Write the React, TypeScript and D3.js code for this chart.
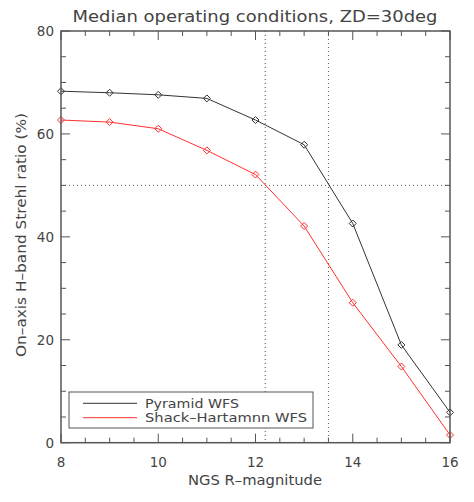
import React from "react";
import * as d3 from "d3";

const magnitudes = [8, 9, 10, 11, 12, 13, 14, 15, 16];
const pyramid = [68.3, 68.0, 67.6, 66.9, 62.7, 57.9, 42.6, 19.0, 5.9];
const shackHartmann = [62.7, 62.3, 61.0, 56.8, 52.1, 42.1, 27.2, 14.8, 1.5];
const xTicks = [8, 10, 12, 14, 16];
const yTicks = [0, 20, 40, 60, 80];
const vLines = [12.2, 13.5];
const hLines = [50];
const seriesNames = ["Pyramid WFS", "Shack\u2013Hartamnn WFS"];
const seriesColors = ["#333333", "#ff3030"];

const W = 474, H = 502;
const left = 61, right = 450, top = 31, bottom = 442.7;
const font = "'DejaVu Sans', sans-serif";
const axisColor = "#555";
const textColor = "#444";

export default function App() {
  const x = d3.scaleLinear().domain([8, 16]).range([left, right]);
  const y = d3.scaleLinear().domain([0, 80]).range([bottom, top]);
  const line = d3.line<number>().x((_, i) => x(magnitudes[i])).y((d) => y(d));
  const series = [pyramid, shackHartmann];
  const xMinor = d3.range(8, 16.001, 0.5);
  const yMinor = d3.range(0, 80.001, 5);
  const diamond = (cx: number, cy: number, r = 3.5) =>
    `M${cx},${cy - r}L${cx + r},${cy}L${cx},${cy + r}L${cx - r},${cy}Z`;
  const legendWidths = [94, 162];

  return (
    <svg width={W} height={H} style={{ position: "absolute", left: 0, top: 0, background: "#fff" }}>
      <rect width={W} height={H} fill="#fff" />
      <text x={255} y={22} textAnchor="middle" fontFamily={font} fontSize={15} fill={textColor} textLength={365} lengthAdjust="spacingAndGlyphs">
        Median operating conditions, ZD=30deg
      </text>
      {vLines.map((v) => (
        <line key={"v" + v} x1={x(v)} x2={x(v)} y1={top} y2={bottom} stroke="#555" strokeWidth={1} strokeDasharray="1,3" />
      ))}
      {hLines.map((h) => (
        <line key={"h" + h} x1={left} x2={right} y1={y(h)} y2={y(h)} stroke="#555" strokeWidth={1} strokeDasharray="1,3" />
      ))}
      {series.map((s, k) => (
        <g key={k}>
          <path d={line(s) || ""} fill="none" stroke={seriesColors[k]} strokeWidth={1} />
          {s.map((v, i) => (
            <path key={i} d={diamond(x(magnitudes[i]), y(v))} fill="none" stroke={seriesColors[k]} strokeWidth={1} />
          ))}
        </g>
      ))}
      <rect x={left} y={top} width={right - left} height={bottom - top} fill="none" stroke={axisColor} strokeWidth={1.5} />
      {xMinor.map((t) => {
        const major = Math.abs(t % 2) < 1e-6;
        const len = major ? 9 : 5;
        return (
          <g key={"xt" + t}>
            <line x1={x(t)} x2={x(t)} y1={bottom} y2={bottom - len} stroke={axisColor} strokeWidth={1} />
            <line x1={x(t)} x2={x(t)} y1={top} y2={top + len} stroke={axisColor} strokeWidth={1} />
          </g>
        );
      })}
      {yMinor.map((t) => {
        const major = Math.abs(t % 20) < 1e-6;
        const len = major ? 9 : 5;
        return (
          <g key={"yt" + t}>
            <line x1={left} x2={left + len} y1={y(t)} y2={y(t)} stroke={axisColor} strokeWidth={1} />
            <line x1={right} x2={right - len} y1={y(t)} y2={y(t)} stroke={axisColor} strokeWidth={1} />
          </g>
        );
      })}
      {xTicks.map((t) => (
        <text key={"xl" + t} x={x(t)} y={467} textAnchor="middle" fontFamily={font} fontSize={13.5} fill={textColor}>
          {t}
        </text>
      ))}
      {yTicks.map((t) => (
        <text key={"yl" + t} x={54} y={y(t) + 5} textAnchor="end" fontFamily={font} fontSize={13.5} fill={textColor}>
          {t}
        </text>
      ))}
      <text x={255} y={485} textAnchor="middle" fontFamily={font} fontSize={13.5} fill={textColor} textLength={134} lengthAdjust="spacingAndGlyphs">
        NGS R–magnitude
      </text>
      <text transform={`translate(26,235) rotate(-90)`} textAnchor="middle" fontFamily={font} fontSize={13.5} fill={textColor} textLength={244} lengthAdjust="spacingAndGlyphs">
        On–axis H–band Strehl ratio (%)
      </text>
      <rect x={69} y={392} width={244} height={36} fill="#fff" stroke={axisColor} strokeWidth={1} />
      {seriesNames.map((n, k) => (
        <g key={n}>
          <line x1={83} x2={137} y1={403.3 + k * 14.4} y2={403.3 + k * 14.4} stroke={seriesColors[k]} strokeWidth={1} />
          <text x={145} y={403.3 + k * 14.4 + 4.5} fontFamily={font} fontSize={12.5} fill={textColor} textLength={legendWidths[k]} lengthAdjust="spacingAndGlyphs">
            {n}
          </text>
        </g>
      ))}
    </svg>
  );
}
